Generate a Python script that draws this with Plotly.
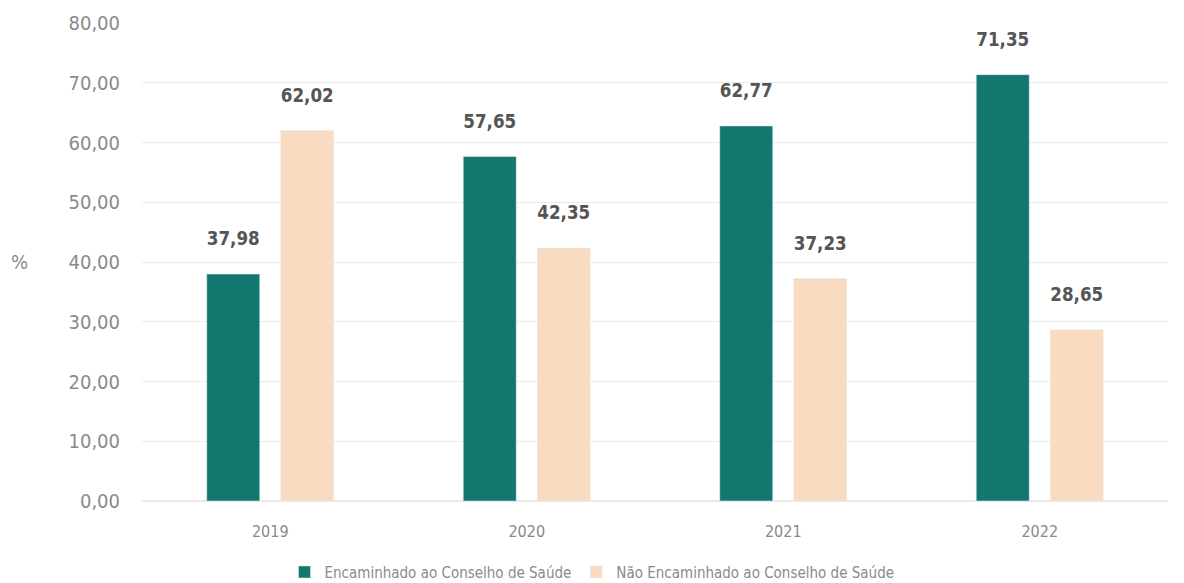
import plotly.graph_objects as go

anos = ['2019', '2020', '2021', '2022']
encaminhado = [37.98, 57.65, 62.77, 71.35]
nao_encaminhado = [62.02, 42.35, 37.23, 28.65]

fonte = 'DejaVu Sans Condensed'


def f(size, color, weight=None):
    d = dict(family=fonte, size=size, color=color)
    if weight:
        d['weight'] = weight
    return d


# linha extra pequena para afastar o rótulo do topo da barra
rotulo = '%{y:.2f}<br><span style="font-size:9px"> </span>'

fig = go.Figure()
fig.add_trace(go.Bar(
    x=anos, y=encaminhado, name='Encaminhado ao Conselho de Saúde',
    marker_color='#137770', texttemplate=rotulo, textposition='outside',
    textfont=f(26, '#555555', 'bold'), cliponaxis=False
))
fig.add_trace(go.Bar(
    x=anos, y=nao_encaminhado, name='Não Encaminhado ao Conselho de Saúde',
    marker_color='#f8dbc1', texttemplate=rotulo, textposition='outside',
    textfont=f(26, '#555555', 'bold'), cliponaxis=False
))

# a página tem 8px de margem no body
fig.update_layout(
    width=1176, height=575,
    margin=dict(l=134, r=16, t=15, b=82, autoexpand=False),
    paper_bgcolor='white', plot_bgcolor='white',
    separators=',.',
    bargap=0.423, bargroupgap=0.284,
    font=f(16, '#8a8a8a'),
    legend=dict(orientation='h', x=0.4386, xanchor='center', y=-0.149, yanchor='middle',
                font=f(15, '#8a8a8a')),
    showlegend=True,
)
fig.add_annotation(text='%', x=-0.119, xref='paper', y=40, yref='y', showarrow=False,
                   xanchor='center', font=f(20, '#8a8a8a'))
fig.update_yaxes(range=[0, 80], dtick=10, tickformat='.2f', showgrid=True,
                 gridcolor='#ebebeb', zeroline=True, zerolinecolor='#ebebeb',
                 tickfont=f(20, '#8a8a8a'), ticks='outside', ticklen=17, tickcolor='white',
                 automargin=False)
fig.update_xaxes(tickfont=f(16, '#8a8a8a'), showline=False, ticks='outside',
                 ticklen=16, tickcolor='white', automargin=False)

fig.write_html('out.html')
